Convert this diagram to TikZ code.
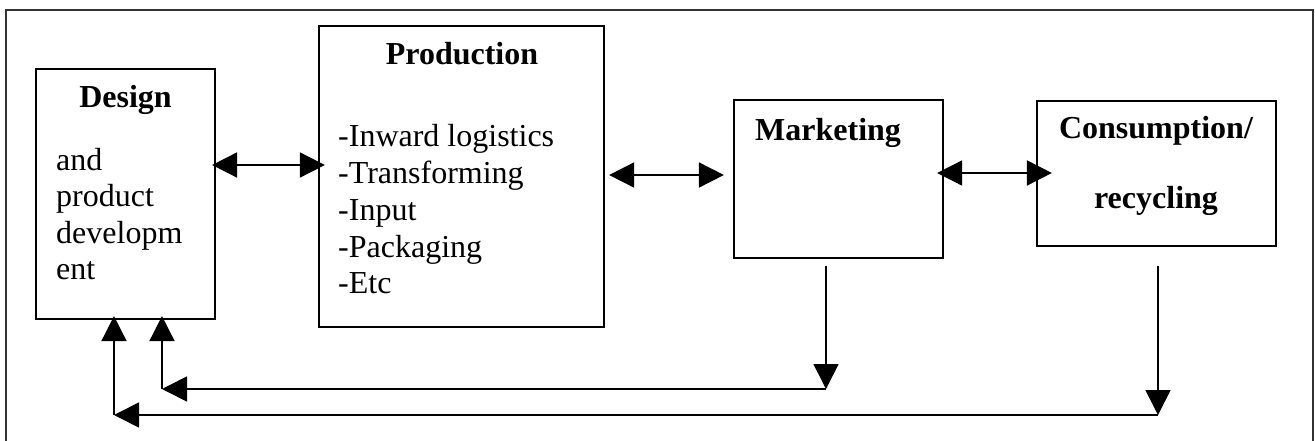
\documentclass[tikz,border=0pt]{standalone}
\usepackage{fontspec}
\setmainfont{Liberation Serif}
\usetikzlibrary{arrows.meta}
\begin{document}
\begin{tikzpicture}[x=1pt,y=-1pt,
  box/.style={draw,line width=2.2pt,rectangle,inner sep=0pt,anchor=center},
  txt/.style={inner sep=0pt,font=\fontsize{32}{36}\selectfont},
  btxt/.style={txt,font=\fontsize{32}{36}\selectfont\bfseries},
  arr/.style={line width=1.7pt,-{Triangle[length=25pt,width=25pt]}},
  darr/.style={line width=1.7pt,{Triangle[length=25pt,width=25pt]}-{Triangle[length=25pt,width=25pt]}}]
\useasboundingbox (0,0) rectangle (1315,441);
% outer frame (open at the bottom)
\draw[line width=1.5pt,black!80] (6,441) -- (6,10) -- (1313,10) -- (1313,441);
% boxes
\node[box,minimum width=179pt,minimum height=250pt] (design) at (125.5,194) {};
\node[box,minimum width=285pt,minimum height=301pt] (prod) at (461.5,176.5) {};
\node[box,minimum width=209pt,minimum height=158pt] (mkt) at (838.5,179) {};
\node[box,minimum width=239pt,minimum height=145pt] (cons) at (1156.5,173.5) {};
% texts
\node[btxt,anchor=base] (designT) at (125.5,108) {Design};
\foreach \t [count=\i] in {and,product,developm,ent}
  \node[txt,anchor=base west] (design\i) at (56,171+36*\i-36) {\t};
\node[btxt,anchor=base] (prodT) at (462,65) {Production};
\foreach \t [count=\i] in {-Inward logistics,-Transforming,-Input,-Packaging,-Etc}
  \node[txt,anchor=base west] (prod\i) at (338,147+36.7*\i-36.7) {\t};
\node[btxt,anchor=base west] (mktT) at (755,141) {Marketing};
\node[btxt,anchor=base] (consT1) at (1156,139) {Consumption/};
\node[btxt,anchor=base] (consT2) at (1156,208) {recycling};
% two-way connectors
\draw[darr] ([shift={(-4,-29)}]design.east) -- ([shift={(7,-11.5)}]prod.west);
\draw[darr] ([shift={(4,-1.5)}]prod.east) -- ([shift={(-9,-4)}]mkt.west);
\draw[darr] ([shift={(-7,-6)}]mkt.east) -- ([shift={(16,-0.5)}]cons.west);
% feedback loops
\coordinate (m1) at (826,389);
\coordinate (m2) at (162,389);
\coordinate (c1) at (1158,415);
\coordinate (c2) at (114,415);
\draw[arr] ([shift={(-12.5,7)}]mkt.south) -- (m1);
\draw[arr] (m1) -- (m2);
\draw[arr] (m2) -- ([shift={(36.5,-4)}]design.south);
\draw[arr] ([shift={(1.5,19)}]cons.south) -- (c1);
\draw[arr] (c1) -- (c2);
\draw[arr] (c2) -- ([shift={(-11.5,-4)}]design.south);
\end{tikzpicture}
\end{document}
